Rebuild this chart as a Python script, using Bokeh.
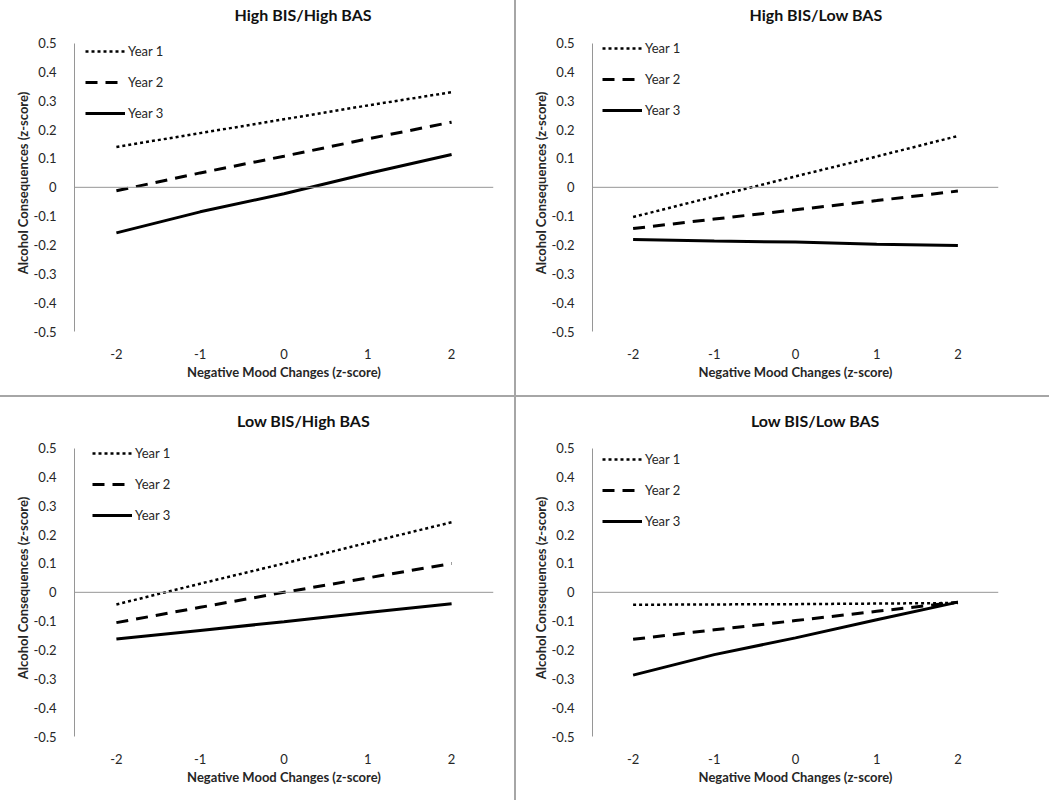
from bokeh.plotting import figure
from bokeh.layouts import row, column
from bokeh.models import FixedTicker, Span, Label, Legend, Div
from bokeh.embed import file_html
from bokeh.resources import INLINE

# ---------------- data ----------------
x_vals = [-2, -1, 0, 1, 2]
x_ticks = [-2, -1, 0, 1, 2]
x_tick_labels = ["-2", "-1", "0", "1", "2"]
y_ticks = [-0.5, -0.4, -0.3, -0.2, -0.1, 0, 0.1, 0.2, 0.3, 0.4, 0.5]
y_tick_labels = ["-0.5", "-0.4", "-0.3", "-0.2", "-0.1", "0", "0.1", "0.2", "0.3", "0.4", "0.5"]
series_names = ["Year 1", "Year 2", "Year 3"]

titles = ["High BIS/High BAS", "High BIS/Low BAS", "Low BIS/High BAS", "Low BIS/Low BAS"]

hh_year1 = [0.14, 0.188, 0.236, 0.284, 0.33]
hh_year2 = [-0.012, 0.05, 0.108, 0.168, 0.226]
hh_year3 = [-0.158, -0.085, -0.022, 0.048, 0.114]

hl_year1 = [-0.103, -0.032, 0.038, 0.107, 0.178]
hl_year2 = [-0.143, -0.11, -0.078, -0.046, -0.013]
hl_year3 = [-0.181, -0.186, -0.19, -0.197, -0.202]

lh_year1 = [-0.042, 0.03, 0.1, 0.172, 0.243]
lh_year2 = [-0.105, -0.052, 0.0, 0.05, 0.1]
lh_year3 = [-0.162, -0.132, -0.102, -0.07, -0.04]

ll_year1 = [-0.043, -0.042, -0.041, -0.039, -0.037]
ll_year2 = [-0.163, -0.13, -0.098, -0.066, -0.034]
ll_year3 = [-0.287, -0.216, -0.158, -0.095, -0.034]

panel_series = [
    [hh_year1, hh_year2, hh_year3],
    [hl_year1, hl_year2, hl_year3],
    [lh_year1, lh_year2, lh_year3],
    [ll_year1, ll_year2, ll_year3],
]

# ---------------- styling ----------------
FONT = "Lato"
AXIS_GRAY = "#969696"
SEP_GRAY = "#a6a6a6"
TEXT = "#262626"
dashes = ["3 3", "12 8", "solid"]
widths = [2.5, 3, 3]
Y_TOP = 0.53     # a little headroom above 0.5 so the legend is not clipped
HEADROOM_PX = 9

# per-panel geometry: (width, height, left, right, top, bottom, legend_xy, title_x, title_dy)
geom = [
    (514, 395, 74, 21, 43, 64, (11, 208), 0.227, 29),
    (533, 395, 76, 51, 43, 64, (10, 211), 0.252, 29),
    (514, 403, 74, 21, 51, 64, (18, 211), 0.233, 28),
    (533, 403, 76, 51, 51, 64, (10, 205), 0.246, 28),
]


def make_panel(idx):
    w, h, bl, br, bt, bb, leg_xy, tx, tdy = geom[idx]
    p = figure(width=w, height=h, x_range=(-2.5, 2.5), y_range=(-0.5, Y_TOP),
               output_backend="svg", toolbar_location=None,
               min_border_left=bl, min_border_right=br,
               min_border_top=bt - HEADROOM_PX, min_border_bottom=bb)
    p.outline_line_color = None
    p.xgrid.visible = False
    p.ygrid.visible = False
    p.background_fill_color = "white"
    p.border_fill_color = "white"

    # x axis
    xa = p.xaxis[0]
    xa.ticker = FixedTicker(ticks=x_ticks)
    xa.major_label_overrides = dict(zip(x_ticks, x_tick_labels))
    xa.axis_line_color = None
    xa.major_tick_line_color = None
    xa.minor_tick_line_color = None
    xa.major_label_standoff = 11
    xa.major_label_text_font = FONT
    xa.major_label_text_font_size = "13px"
    xa.major_label_text_color = TEXT
    xa.axis_label = "Negative Mood Changes (z-score)"
    xa.axis_label_text_font = FONT
    xa.axis_label_text_font_size = "13px"
    xa.axis_label_text_font_style = "bold"
    xa.axis_label_text_color = TEXT
    xa.axis_label_standoff = 2

    # y axis
    ya = p.yaxis[0]
    ya.ticker = FixedTicker(ticks=y_ticks)
    ya.major_label_overrides = dict(zip(y_ticks, y_tick_labels))
    ya.bounds = (-0.5, 0.5)
    ya.axis_line_color = AXIS_GRAY
    ya.axis_line_width = 1
    ya.major_tick_line_color = None
    ya.minor_tick_line_color = None
    ya.major_label_standoff = 12
    ya.major_label_text_font = FONT
    ya.major_label_text_font_size = "13px"
    ya.major_label_text_color = TEXT
    ya.axis_label = "Alcohol Consequences (z-score)"
    ya.axis_label_text_font = FONT
    ya.axis_label_text_font_size = "13px"
    ya.axis_label_text_font_style = "bold"
    ya.axis_label_text_color = TEXT
    ya.axis_label_standoff = 0

    # zero line
    p.add_layout(Span(location=0, dimension="width", line_color=AXIS_GRAY, line_width=1))

    items = []
    for k, ys in enumerate(panel_series[idx]):
        r = p.line(x_vals, ys, line_color="black", line_width=widths[k],
                   line_dash=dashes[k])
        items.append((series_names[k], [r]))

    legend = Legend(items=items, location=leg_xy, orientation="vertical",
                    glyph_width=40, glyph_height=20, label_height=20,
                    label_standoff=3, spacing=11, padding=0, margin=0,
                    border_line_color=None, background_fill_alpha=0,
                    label_text_font=FONT, label_text_font_size="13px",
                    label_text_color=TEXT)
    p.add_layout(legend, "center")

    p.add_layout(Label(x=tx, y=tdy - HEADROOM_PX, x_units="data", y_units="screen",
                       text=titles[idx], text_align="center", text_baseline="middle",
                       text_font=FONT, text_font_size="16px", text_font_style="bold",
                       text_color="#111111"), "above")
    return p


panels = [make_panel(i) for i in range(4)]


def vsep(h):
    return Div(text="", width=2, height=h, margin=0,
               styles={"background-color": SEP_GRAY})


hsep = Div(text="", width=514 + 2 + 533, height=2, margin=0,
           styles={"background-color": SEP_GRAY})

layout = column(
    row(panels[0], vsep(395), panels[1]),
    hsep,
    row(panels[2], vsep(403), panels[3]),
)

open("out.html", "w").write(file_html(layout, INLINE))
